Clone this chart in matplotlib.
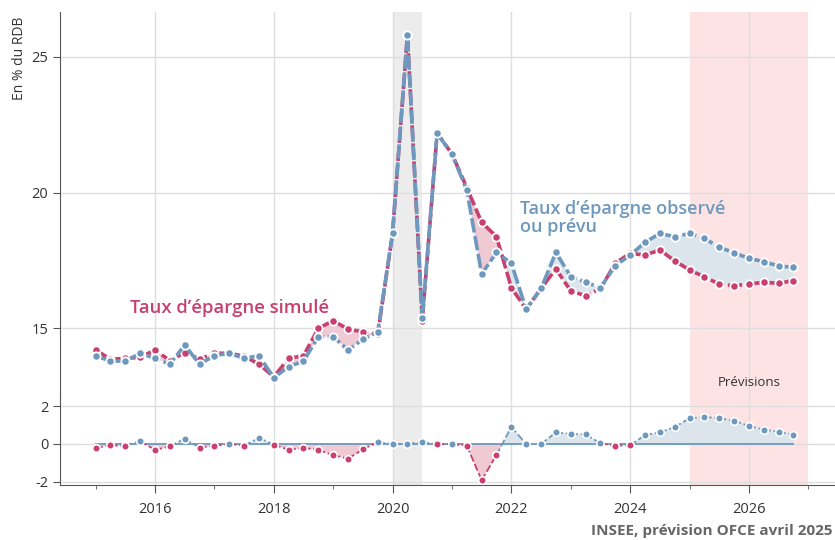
import numpy as np
import matplotlib.pyplot as plt
from matplotlib.ticker import MultipleLocator

plt.rcParams['font.family'] = ['Open Sans', 'DejaVu Sans']

# quarterly data, 2015Q1 -> 2026Q4
years = np.arange(2015, 2027)
quarters = [1, 2, 3, 4]

observe = [13.98, 13.78, 13.78, 14.07, 13.88, 13.67, 14.37, 13.67,
           13.98, 14.07, 13.88, 13.98, 13.17, 13.57, 13.78, 14.68,
           14.68, 14.19, 14.58, 14.86, 18.49, 25.81, 15.36, 22.18,
           21.42, 20.09, 16.99, 17.79, 17.39, 15.69, 16.46, 17.79,
           16.90, 16.69, 16.49, 17.30, 17.69, 18.16, 18.49, 18.37,
           18.49, 18.31, 17.98, 17.78, 17.57, 17.45, 17.29, 17.24]

simule = [14.19, 13.85, 13.88, 13.92, 14.19, 13.80, 14.09, 13.86,
          14.07, 14.07, 13.96, 13.67, 13.20, 13.88, 13.98, 14.99,
          15.27, 14.96, 14.86, 14.77, 18.49, 25.81, 15.27, 22.20,
          21.42, 20.18, 18.90, 18.37, 16.49, 15.69, 16.46, 17.18,
          16.37, 16.19, 16.45, 17.39, 17.76, 17.69, 17.88, 17.48,
          17.14, 16.89, 16.62, 16.56, 16.62, 16.69, 16.65, 16.75]

x = np.array([y + (q - 1) / 4 for y in years for q in quarters])
obs = np.array(observe)
sim = np.array(simule)
diff = obs - sim

# colours
rose = '#c8406f'
bleu = '#6e98bd'
rose_fill = '#efc9d4'
bleu_fill = '#dbe5eb'
gris_txt = '#333333'

fig = plt.figure(figsize=(8.35, 5.4), dpi=100)
ax1 = fig.add_axes([60 / 835, 1 - 395 / 540, 1 - 60 / 835, (395 - 12) / 540])
ax2 = fig.add_axes([60 / 835, 1 - 485 / 540, 1 - 60 / 835, 90 / 540], sharex=ax1)

for ax in (ax1, ax2):
    ax.axvspan(2020, 2020.5, color='#ececec', zorder=0, lw=0)
    ax.axvspan(2025, 2027, color='#fde3e4', zorder=0, lw=0)
    ax.spines['top'].set_visible(False)
    ax.spines['right'].set_visible(False)
    ax.spines['left'].set_color('#555555')
    ax.grid(True, color='#dedede', lw=1, zorder=0.5)
    ax.set_axisbelow(True)
    ax.tick_params(axis='y', colors='#555555', labelcolor=gris_txt, labelsize=10.5, length=5)

ax1.set_xlim(2014.4, 2027.45)

# top panel
ax1.fill_between(x, obs, sim, where=obs >= sim, interpolate=True, color=bleu_fill, lw=0, zorder=1)
ax1.fill_between(x, obs, sim, where=obs < sim, interpolate=True, color=rose_fill, lw=0, zorder=1)
ax1.plot(x, sim, color=rose, lw=2.6, ls=(0, (4, 1)), marker='o', ms=6,
         mfc=rose, mec='white', mew=1.3, zorder=3)
ax1.plot(x, obs, color=bleu, lw=2.6, ls=(0, (4, 1)), marker='o', ms=6,
         mfc=bleu, mec='white', mew=1.3, zorder=4)
ax1.set_ylim(12.53, 26.66)
ax1.set_yticks([15, 20, 25])
ax1.spines['bottom'].set_visible(False)
ax1.tick_params(axis='x', which='both', bottom=False, labelbottom=False)
ax1.set_ylabel('En % du RDB', color=gris_txt, fontsize=10)
ax1.yaxis.set_label_coords(-0.043, 0.88)

ax1.text(2015.58, 15.74, 'Taux d\u2019épargne simulé', color=rose, fontsize=13.3,
         fontweight='semibold', va='center', zorder=5)
ax1.text(2022.15, 18.55, 'Taux d\u2019épargne observé\nou prévu', color=bleu, fontsize=13,
         fontweight='semibold', linespacing=1.0, zorder=5)
ax1.text(2026, 13.0, 'Prévisions', color=gris_txt, fontsize=9.5,
         ha='center', va='center')

# bottom panel
ax2.plot([x[0], x[-1]], [0, 0], color=bleu, lw=1.3, zorder=2)
ax2.fill_between(x, diff, 0, where=diff >= 0, interpolate=True, color=bleu_fill, lw=0, zorder=1)
ax2.fill_between(x, diff, 0, where=diff < 0, interpolate=True, color=rose_fill, lw=0, zorder=1)
for i in range(len(x) - 1):
    c = rose if diff[i] + diff[i + 1] < 0 else bleu
    ax2.plot(x[i:i + 2], diff[i:i + 2], color=c, lw=1.3, ls=(0, (4, 1.5)), zorder=3)
for i in range(len(x)):
    c = rose if diff[i] < 0 else bleu
    ax2.plot(x[i], diff[i], 'o', ms=5.5, mfc=c, mec='white', mew=1.2, zorder=4)
ax2.set_ylim(-2.16, 2.58)
ax2.set_yticks([-2, 0, 2])
ax2.set_yticklabels(['-2', '0', '2'])

ax2.set_xticks(np.arange(2016, 2027, 2))
ax2.xaxis.set_minor_locator(MultipleLocator(1))
ax2.grid(False, which='minor')
ax2.tick_params(axis='x', which='major', length=6, colors='#555555', labelcolor=gris_txt,
                labelsize=10.5, pad=6)
ax2.tick_params(axis='x', which='minor', length=3, colors='#555555')
ax2.spines['bottom'].set_color('#555555')

fig.text(0.997, 0.004, 'INSEE, prévision OFCE avril 2025', ha='right', va='bottom',
         color='#666666', fontsize=11, fontweight='bold')

fig.savefig('out.png', dpi=100)
